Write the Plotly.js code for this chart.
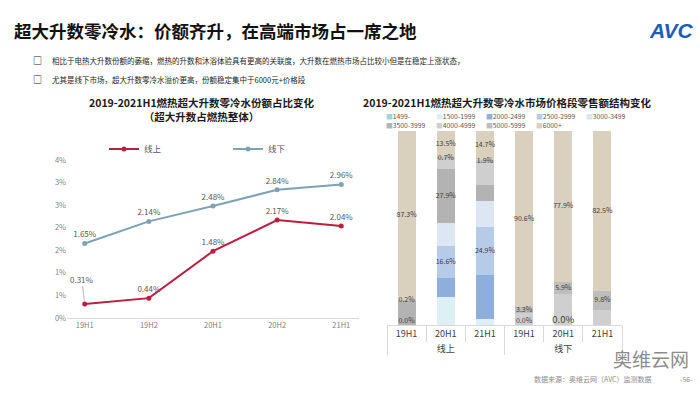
<!DOCTYPE html>
<html><head><meta charset="utf-8">
<script src="https://cdn.plot.ly/plotly-3.0.1.min.js"></script>
<style>html,body{margin:0;padding:0;background:#fff}#chart{width:700px;height:394px}</style>
</head><body><div id="chart"></div>
<script>
// ---------- Left chart data: share of super-large-capacity zero-cold-water in gas heaters
const periods = ['19H1', '19H2', '20H1', '20H2', '21H1'];
const onlineShare = [0.31, 0.44, 1.48, 2.17, 2.04];
const offlineShare = [1.65, 2.14, 2.48, 2.84, 2.96];
const shareTickVals = [0, 0.5, 1, 1.5, 2, 2.5, 3, 3.5];
const shareTickText = ['0%', '1%', '1%', '2%', '2%', '3%', '3%', '4%'];

// ---------- Right chart data: price-band structure of retail sales (%)
const channelGroups = ['线上', '线上', '线上', '线下', '线下', '线下'];
const barPeriods = ['19H1', '20H1', '21H1', '19H1', '20H1', '21H1'];
const priceBands = ['1499-', '1500-1999', '2000-2499', '2500-2999', '3000-3499', '3500-3999', '4000-4999', '5000-5999', '6000+'];
const band1499 = [0.0, 0.0, 0.0, 0.0, 0.0, 0.0];
const band1500 = [0.0, 14.5, 3.1, 0.0, 0.0, 0.0];
const band2000 = [0.0, 9.5, 22.7, 0.0, 0.0, 0.0];
const band2500 = [0.0, 16.6, 24.9, 0.0, 0.0, 0.0];
const band3000 = [0.0, 11.8, 13.2, 0.0, 0.0, 0.0];
const band3500 = [12.5, 27.9, 8.5, 0.0, 0.0, 0.0];
const band4000 = [0.0, 5.5, 11.0, 6.1, 16.2, 7.7];
const band5000 = [0.2, 0.7, 1.9, 3.3, 5.9, 9.8];
const band6000 = [87.3, 13.5, 14.7, 90.6, 77.9, 82.5];
// which bars show a value label, per band
const label1499 = [true, false, false, true, true, false];
const label2500 = [false, true, true, false, false, false];
const label3500 = [false, true, false, false, false, false];
const label5000 = [true, true, true, true, true, true];
const label6000 = [true, true, true, true, true, true];

const bandValues = [band1499, band1500, band2000, band2500, band3000, band3500, band4000, band5000, band6000];
const bandLabels = [label1499, null, null, label2500, null, label3500, null, label5000, label6000];
const bandColors = ['#9fd4d8', '#dcf0f5', '#8eaedc', '#b5cbe8', '#dde6f3', '#b3b3b3', '#cfcfcf', '#bdbdbd', '#d9d1bd'];

const X = p => p / 700;
const Y = p => (394 - p) / 394;
const FONT = '"Noto Sans CJK SC", "Noto Sans", sans-serif';
const pct = v => v.toFixed(2) + '%';

const traces = [];

// line chart
traces.push({
  type: 'scatter', mode: 'lines+markers+text', name: '线上',
  x: periods, y: onlineShare,
  text: onlineShare.map((v, i) => i === 0 ? '' : pct(v)),
  textposition: 'top center', textfont: {size: 8, color: '#595959'},
  line: {color: '#bd1d3e', width: 2}, marker: {color: '#bd1d3e', size: 5},
  cliponaxis: false, hoverinfo: 'none', xaxis: 'x', yaxis: 'y'
});
traces.push({
  type: 'scatter', mode: 'lines+markers+text', name: '线下',
  x: periods, y: offlineShare,
  text: offlineShare.map(pct),
  textposition: 'top center', textfont: {size: 8, color: '#595959'},
  line: {color: '#7ea2b5', width: 2}, marker: {color: '#7ea2b5', size: 5},
  cliponaxis: false, hoverinfo: 'none', xaxis: 'x', yaxis: 'y'
});

// stacked bars
priceBands.forEach((band, k) => {
  traces.push({
    type: 'bar', name: band, x: [channelGroups, barPeriods], y: bandValues[k],
    marker: {color: bandColors[k], line: {width: 0}},
    showlegend: false, hoverinfo: 'none', xaxis: 'x2', yaxis: 'y2'
  });
});

// bar value labels at the middle of each labelled segment
const lx0 = [], lx1 = [], ly = [], lt = [], ls = [], lp = [];
for (let j = 0; j < barPeriods.length; j++) {
  let base = 0;
  bandValues.forEach((vals, k) => {
    const v = vals[j];
    if (bandLabels[k] && bandLabels[k][j]) {
      lx0.push(channelGroups[j]); lx1.push(barPeriods[j]);
      ly.push(base + v / 2); lt.push(v.toFixed(1) + '%');
      ls.push(v === 0 && j === 4 ? 9.5 : 7);
      lp.push(v === 0 ? 'top center' : 'middle center');
    }
    base += v;
  });
}
traces.push({
  type: 'scatter', mode: 'text', x: [lx0, lx1], y: ly, text: lt,
  textposition: lp, textfont: {size: ls, color: '#3d3d3d'},
  showlegend: false, hoverinfo: 'none', cliponaxis: false, xaxis: 'x2', yaxis: 'y2'
});

const ann = [];
const addText = (text, x, y, size, color, xanchor, extra) => ann.push(Object.assign({
  text, x: X(x), y: Y(y), xref: 'paper', yref: 'paper', showarrow: false,
  xanchor: xanchor || 'left', yanchor: 'middle', font: {size, color, family: FONT}
}, extra || {}));

addText('<b>超大升数零冷水：价额齐升，在高端市场占一席之地</b>', 12, 31, 17.5, '#111111');
addText('<b><i>AVC</i></b>', 671, 31, 20, '#1d5db8', 'center', {font: {size: 21, color: '#1d5db8', family: '"Liberation Sans", Arial, sans-serif'}});
addText('<b>□</b>', 37, 61, 9, '#222222', 'center');
addText('<b>□</b>', 37, 79, 9, '#222222', 'center');
addText('相比于电热大升数份额的萎缩，燃热的升数和沐浴体验具有更高的关联度，大升数在燃热市场占比较小但是在稳定上涨状态，', 50, 61, 7.5, '#262626');
addText('尤其是线下市场，超大升数零冷水溢价更高，份额稳定集中于6000元+价格段', 50, 79, 7.5, '#262626');
addText('<b>2019-2021H1燃热超大升数零冷水份额占比变化</b><br><b>（超大升数占燃热整体）</b>', 202, 109.5, 10.5, '#1a1a1a', 'center');
addText('<b>2019-2021H1燃热超大升数零冷水市场价格段零售额结构变化</b>', 507, 102, 10.5, '#1a1a1a', 'center');

// bar legend rows (5 + 4 entries)
priceBands.forEach((band, k) => {
  const col = k < 5 ? k : k - 5;
  const row = k < 5 ? 0 : 1;
  addText('<span style="color:' + bandColors[k] + '">■</span>' + band, 384 + col * 50, 116 + row * 9, 6.8, '#595959');
});

addText('奥维云网', 651, 358, 19, '#8c8c8c', 'center');
addText('数据来源：奥维云网（AVC）监测数据', 593, 379, 7, '#8c8c8c', 'center');
addText('-56-', 686, 379, 7, '#8c8c8c', 'center');

// leader-line label for the first online point
ann.push({
  x: periods[0], y: onlineShare[0], xref: 'x', yref: 'y', text: pct(onlineShare[0]),
  showarrow: true, arrowhead: 0, arrowwidth: 0.8, arrowcolor: '#a6a6a6',
  ax: -3, ay: -25, standoff: 2, font: {size: 8, color: '#595959', family: FONT}
});

const layout = {
  width: 700, height: 394, autosize: false,
  margin: {l: 0, r: 0, t: 0, b: 0},
  paper_bgcolor: '#ffffff', plot_bgcolor: 'rgba(0,0,0,0)',
  font: {family: FONT, color: '#595959'},
  barmode: 'stack', bargap: 0.54,
  showlegend: true,
  legend: {orientation: 'h', traceorder: 'normal', x: X(104), y: Y(149), xanchor: 'left', yanchor: 'middle',
           entrywidth: 79, font: {size: 8.5, color: '#595959'}, bgcolor: 'rgba(0,0,0,0)'},
  xaxis: {domain: [X(67), X(359)], anchor: 'y', showline: true, linecolor: '#d9d9d9', linewidth: 1,
          ticks: '', showgrid: false, zeroline: false, tickfont: {size: 7.5, color: '#7f7f7f'}},
  yaxis: {domain: [Y(318), Y(160)], anchor: 'x', range: [0, 3.5], tickvals: shareTickVals, ticktext: shareTickText,
          showgrid: false, zeroline: false, showline: false, ticks: '', tickfont: {size: 7.5, color: '#7f7f7f'}},
  xaxis2: {domain: [X(387), X(622)], anchor: 'y2', type: 'multicategory', showline: true, linecolor: '#d9d9d9',
           ticks: 'outside', ticklen: 16, tickcolor: '#d9d9d9', tickson: 'boundaries',
           showdividers: true, dividercolor: '#d9d9d9', dividerwidth: 1, showgrid: false,
           tickfont: {size: 9, color: '#404040'}},
  yaxis2: {domain: [Y(325), Y(131)], anchor: 'x2', range: [0, 100], visible: false},
  annotations: ann
};

Plotly.newPlot('chart', traces, layout, {displayModeBar: false, staticPlot: true});
</script>
</body></html>
